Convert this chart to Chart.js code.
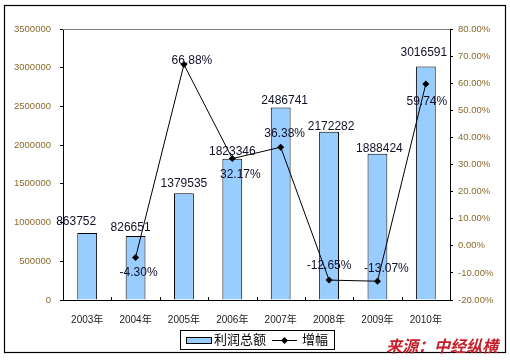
<!DOCTYPE html>
<html>
<head>
<meta charset="utf-8">
<script src="https://cdn.jsdelivr.net/npm/chart.js@4/dist/chart.umd.min.js"></script>
<style>
  html, body { margin: 0; padding: 0; background: #fff; }
  #wrap { width: 510px; height: 360px; position: relative; }
</style>
</head>
<body>
<div id="wrap"><canvas id="c" width="510" height="360"></canvas></div>
<script>
// ---- data ----
const categories = ['2003年', '2004年', '2005年', '2006年', '2007年', '2008年', '2009年', '2010年'];
const profitTotal = [863752, 826651, 1379535, 1823346, 2486741, 2172282, 1888424, 3016591];
const growthPct = [null, -4.30, 66.88, 32.17, 36.38, -12.65, -13.07, 59.74];
const leftTicks = [0, 500000, 1000000, 1500000, 2000000, 2500000, 3000000, 3500000];
const rightTicks = [-20, -10, 0, 10, 20, 30, 40, 50, 60, 70, 80];
const seriesNames = ['利润总额', '增幅'];
const sourceText = '来源：中经纵横';

// label placement (style, not data): offsets in px from the mark
const barLabelDx = [-11, -5, 0, 0, 4, 2, 2, -2];
const barLabelDy = [-11, -8, -9, -7, -7, -5, -5, -14];
const lineLabelDx = [0, 3, 8, 8, 4, 0, 9, 1];
const lineLabelDy = [0, 15, -4, 16, -14, -14, -13, 18];

const FONT = '"Liberation Sans", Arial, "Noto Sans CJK SC", sans-serif';
const TICK_COLOR = '#8a6a2c';
const BAR_FILL = '#99CCFF';

const decorPlugin = {
  id: 'decor',
  beforeDraw(chart) {
    const ctx = chart.ctx;
    ctx.save();
    ctx.fillStyle = '#fff';
    ctx.fillRect(0, 0, chart.width, chart.height);
    ctx.restore();
  },
  afterDatasetsDraw(chart) {
    const ctx = chart.ctx;
    const a = chart.chartArea;
    const xs = chart.scales.x;
    ctx.save();
    // plot area top border (grey)
    ctx.strokeStyle = '#808080';
    ctx.lineWidth = 1;
    ctx.beginPath();
    ctx.moveTo(a.left, Math.round(a.top) + 0.5);
    ctx.lineTo(a.right, Math.round(a.top) + 0.5);
    ctx.stroke();
    // x-axis inside tick marks at category boundaries
    ctx.strokeStyle = '#000';
    const n = categories.length;
    const step = (a.right - a.left) / n;
    for (let i = 1; i < n; i++) {
      const x = Math.round(xs.getPixelForValue(i) - step / 2) + 0.5;
      ctx.beginPath();
      ctx.moveTo(x, a.bottom);
      ctx.lineTo(x, a.bottom - 3);
      ctx.stroke();
    }
    // data labels
    ctx.font = '12px ' + FONT;
    ctx.fillStyle = '#10102a';
    ctx.textAlign = 'center';
    ctx.textBaseline = 'middle';
    const barMeta = chart.getDatasetMeta(0);
    barMeta.data.forEach((el, i) => {
      ctx.fillText(String(profitTotal[i]), el.x + barLabelDx[i], el.y + barLabelDy[i]);
    });
    const lineMeta = chart.getDatasetMeta(1);
    lineMeta.data.forEach((el, i) => {
      if (growthPct[i] === null) return;
      ctx.fillText(growthPct[i].toFixed(2) + '%', el.x + lineLabelDx[i], el.y + lineLabelDy[i]);
    });
    ctx.restore();
  },
  afterDraw(chart) {
    const ctx = chart.ctx;
    ctx.save();
    // outer border
    ctx.strokeStyle = '#000';
    ctx.lineWidth = 1.2;
    ctx.strokeRect(4.5, 5.5, 501, 347);
    // legend box
    ctx.lineWidth = 1;
    ctx.strokeRect(180.5, 330.5, 154, 19);
    // bar legend swatch
    ctx.fillStyle = BAR_FILL;
    ctx.fillRect(186.5, 337.5, 25, 6);
    ctx.strokeRect(186.5, 337.5, 25, 6);
    ctx.fillStyle = '#000';
    ctx.font = '13px ' + FONT;
    ctx.textAlign = 'left';
    ctx.textBaseline = 'middle';
    ctx.fillText(seriesNames[0], 214, 340.5);
    // line legend
    ctx.beginPath();
    ctx.moveTo(272, 340.5);
    ctx.lineTo(297, 340.5);
    ctx.stroke();
    ctx.beginPath();
    ctx.moveTo(284.5, 337);
    ctx.lineTo(288, 340.5);
    ctx.lineTo(284.5, 344);
    ctx.lineTo(281, 340.5);
    ctx.closePath();
    ctx.fill();
    ctx.fillText(seriesNames[1], 302, 340.5);
    // source
    ctx.fillStyle = '#c4212c';
    ctx.font = 'italic bold 16px "Noto Sans CJK SC", sans-serif';
    ctx.textBaseline = 'middle';
    ctx.fillText(sourceText, 386, 346);
    ctx.restore();
  }
};

new Chart(document.getElementById('c'), {
  type: 'bar',
  data: {
    labels: categories,
    datasets: [
      {
        type: 'bar',
        label: seriesNames[0],
        data: profitTotal,
        yAxisID: 'y',
        backgroundColor: BAR_FILL,
        borderColor: '#000',
        borderWidth: 1,
        barPercentage: 0.41,
        categoryPercentage: 1.0,
        order: 2
      },
      {
        type: 'line',
        label: seriesNames[1],
        data: growthPct,
        yAxisID: 'y1',
        borderColor: '#000',
        backgroundColor: '#000',
        borderWidth: 1,
        pointStyle: 'rectRot',
        pointRadius: 3.5,
        pointBorderWidth: 0,
        tension: 0,
        order: 1
      }
    ]
  },
  options: {
    responsive: false,
    animation: false,
    devicePixelRatio: 1,
    layout: { padding: { top: 29, left: 0, right: 0, bottom: 0 } },
    plugins: {
      legend: { display: false },
      tooltip: { enabled: false }
    },
    scales: {
      x: {
        offset: true,
        grid: { display: false, offset: true },
        border: { display: true, color: '#000', width: 1 },
        ticks: { font: { size: 10, family: FONT }, color: '#222', padding: 6, maxRotation: 0 },
        afterFit(s) { s.height = 60; }
      },
      y: {
        position: 'left',
        min: 0,
        max: 3500000,
        afterBuildTicks(s) { s.ticks = leftTicks.map(v => ({ value: v })); },
        grid: { drawOnChartArea: false, drawTicks: true, tickLength: 3, color: '#000' },
        border: { display: true, color: '#000', width: 1 },
        ticks: { font: { size: 9.5, family: FONT }, color: TICK_COLOR, padding: 9, callback: v => String(v) },
        afterFit(s) { s.width = 63; }
      },
      y1: {
        position: 'right',
        min: -20,
        max: 80,
        afterBuildTicks(s) { s.ticks = rightTicks.map(v => ({ value: v })); },
        grid: { drawOnChartArea: false, drawTicks: true, tickLength: 3, color: '#000' },
        border: { display: true, color: '#000', width: 1 },
        ticks: { font: { size: 9.5, family: FONT }, color: TICK_COLOR, padding: 5, callback: v => Number(v).toFixed(2) + '%' },
        afterFit(s) { s.width = 60; }
      }
    }
  },
  plugins: [decorPlugin]
});
</script>
</body>
</html>
